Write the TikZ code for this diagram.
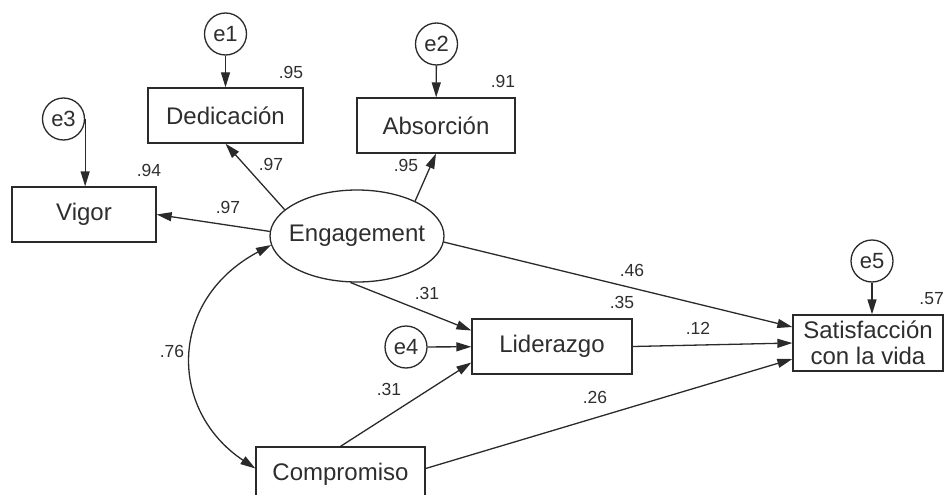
\documentclass[tikz,border=0pt]{standalone}
\usepackage{fontspec}
\setmainfont{Liberation Sans}
\usetikzlibrary{arrows.meta,shapes.geometric}
\definecolor{ink}{HTML}{2A2A2A}
\definecolor{txt}{HTML}{2E2E2E}
\begin{document}
\begin{tikzpicture}[x=1pt,y=-1pt,
  box/.style={draw=ink, line width=1.3pt, fill=white, minimum height=55pt, inner sep=0pt, font=\fontsize{24}{26}\selectfont, text=txt},
  err/.style={circle, draw=ink, line width=1.3pt, minimum size=42pt, inner sep=0pt, font=\fontsize{22}{24}\selectfont, text=txt},
  coef/.style={font=\fontsize{17.5}{19}\selectfont, text=txt, inner sep=0pt},
  arr/.style={draw=ink, line width=1.3pt, -{Triangle[length=15pt,width=9pt]}},
  dbl/.style={draw=ink, line width=1.3pt, {Triangle[length=15pt,width=9pt]}-{Triangle[length=15pt,width=9pt]}},
]
\useasboundingbox (0,0) rectangle (945,495);
% nodes
\node[err] (e1) at (225.5,34) {e1};
\node[box, minimum width=155pt] (ded) at (225.5,115.5) {Dedicación};
\node[err] (e3) at (63.5,119) {e3};
\node[box, minimum width=144pt] (vig) at (84,214.5) {Vigor};
\node[err] (e2) at (436.5,44) {e2};
\node[box, minimum width=158pt] (abs) at (436,125.5) {Absorción};
\node[ellipse, draw=ink, line width=1.3pt, minimum width=174pt, minimum height=92pt, inner sep=0pt, font=\fontsize{24}{26}\selectfont, text=txt] (eng) at (357,236) {\makebox[0pt]{Engagement}};
\node[box, minimum width=160pt] (lid) at (552,346.5) {Liderazgo};
\node[err] (e4) at (406,347) {e4};
\node[box, minimum width=169pt] (comp) at (340.5,474.5) {Compromiso};
\node[box, minimum width=150pt, minimum height=56pt, align=center] (sat) at (868,343) {Satisfacción\\con la vida};
\node[err] (e5) at (872,261) {e5};
% error arrows
\draw[arr] (e1) -- (ded);
\draw[arr] (e2) -- (abs);
\draw[arr] (e3.east) -- (e3.east |- vig.north);
\draw[arr] (e4) -- (lid);
\draw[arr] (e5.south) -- (e5.south |- sat.north);
% structural arrows
\draw[arr] (eng.177.4) -- (vig.east);
\draw[arr] (eng.160.6) -- (ded.south);
\draw[arr] (eng.31.8) -- (abs.south);
\draw[arr] (eng.-4.4) -- ([yshift=16pt]sat.west);
\draw[arr] (eng.-98.7) -- ([yshift=16pt]lid.west);
\draw[arr] (lid.east) -- (sat.west);
\draw[arr] (comp.north) -- ([yshift=-16pt]lid.west);
\draw[arr] ([yshift=6pt]comp.east) -- ([yshift=-16pt]sat.west);
\draw[dbl] ([yshift=6pt]comp.west) .. controls (168,410) and (168,300) .. (eng.186);
% coefficients
\node[coef] (c1) at (291,72) {.95};
\node[coef] (c2) at (149,170) {.94};
\node[coef] (c3) at (271,164) {.97};
\node[coef] (c4) at (228,207) {.97};
\node[coef] (c5) at (503,81) {.91};
\node[coef] (c6) at (406,165) {.95};
\node[coef] (c7) at (632,270) {.46};
\node[coef] (c8) at (622,302) {.35};
\node[coef] (c9) at (427,293) {.31};
\node[coef] (c10) at (389,389) {.31};
\node[coef] (c11) at (172,351) {.76};
\node[coef] (c12) at (698,328) {.12};
\node[coef] (c13) at (595,397) {.26};
\node[coef, anchor=east] (c14) at (944,299) {.57};
\end{tikzpicture}
\end{document}
